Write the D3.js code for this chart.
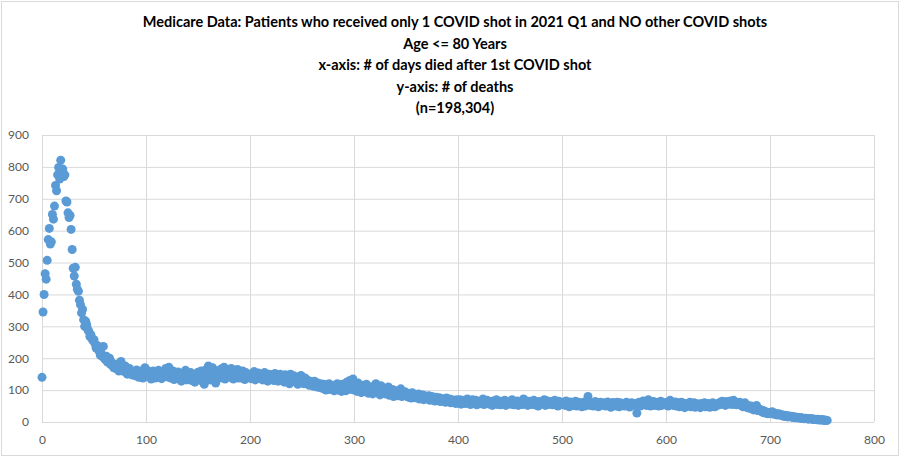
<!DOCTYPE html>
<html>
<head>
<meta charset="utf-8">
<script src="https://cdn.jsdelivr.net/npm/d3@7"></script>
<style>
  body { margin: 0; background: #fff; }
  .title { font-family: Lato, "Liberation Sans", sans-serif; font-weight: bold; font-size: 14.5px; fill: #000; }
  .axis text { font-family: Lato, "Liberation Sans", sans-serif; font-size: 12px; fill: #595959; }
  .axis line { stroke: #d9d9d9; }
  .axis .domain { display: none; }
</style>
</head>
<body>
<svg class="chart" width="900" height="457"></svg>
<script>
"use strict";

const titleLines = [
  "Medicare Data: Patients who received only 1 COVID shot in 2021 Q1 and NO other COVID shots",
  "Age <= 80 Years",
  "x-axis: # of days died after 1st COVID shot",
  "y-axis: # of deaths",
  "(n=198,304)",
];
const xTicks = [0, 100, 200, 300, 400, 500, 600, 700, 800];
const yTicks = [0, 100, 200, 300, 400, 500, 600, 700, 800, 900];

// deaths per day after 1st shot, day 0 .. 755
const deaths = [
  140, 345, 400, 465, 448, 507, 572, 607, 558, 565,
  651, 636, 677, 742, 725, 775, 798, 762, 821, 785,
  793, 770, 775, 693, 690, 656, 641, 648, 604, 541,
  482, 458, 485, 432, 416, 410, 382, 368, 342, 353,
  321, 300, 316, 305, 290, 284, 268, 274, 262, 255,
  258, 245, 232, 240, 228, 222, 210, 216, 205, 237,
  200, 195, 206, 188, 192, 200, 180, 186, 184, 170,
  178, 174, 166, 182, 160, 172, 190, 163, 170, 158,
  176, 162, 150, 165, 168, 155, 160, 147, 158, 152,
  145, 163, 150, 140, 156, 148, 160, 138, 152, 170,
  165, 150, 142, 158, 147, 135, 152, 160, 144, 138,
  155, 148, 162, 140, 150, 136, 158, 145, 152, 168,
  147, 141, 172, 155, 138, 150, 160, 133, 146, 152,
  140, 157, 135, 148, 128, 145, 150, 138, 162, 132,
  147, 136, 142, 155, 130, 144, 150, 125, 148, 139,
  156, 134, 145, 160, 128, 150, 118, 142, 165, 137,
  176, 148, 132, 158, 170, 140, 152, 122, 160, 145,
  150, 138, 166, 147, 155, 172, 135, 158, 144, 162,
  150, 140, 168, 147, 135, 158, 150, 143, 165, 138,
  152, 145, 138, 160, 148, 133, 155, 142, 150, 140,
  147, 136, 152, 143, 158, 132, 148, 140, 154, 137,
  145, 150, 132, 142, 155, 138, 146, 128, 150, 140,
  135, 148, 142, 130, 152, 138, 145, 128, 140, 150,
  132, 144, 138, 125, 148, 136, 130, 142, 120, 150,
  138, 128, 145, 132, 125, 140, 118, 135, 130, 146,
  125, 132, 120, 138, 128, 122, 130, 115, 127, 120,
  124, 112, 128, 118, 110, 122, 115, 108, 120, 112,
  105, 118, 110, 100, 115, 108, 120, 102, 112, 106,
  110, 98, 115, 104, 120, 100, 108, 112, 96, 118,
  105, 112, 98, 125, 108, 102, 130, 110, 115, 135,
  100, 118, 108, 96, 122, 104, 112, 92, 115, 100,
  108, 95, 118, 102, 90, 110, 98, 104, 88, 112,
  96, 120, 100, 92, 108, 85, 114, 98, 90, 105,
  88, 100, 95, 110, 84, 96, 90, 102, 80, 95,
  88, 98, 82, 92, 86, 104, 80, 90, 85, 95,
  82, 90, 78, 88, 84, 75, 92, 80, 86, 76,
  84, 78, 88, 72, 80, 76, 85, 70, 82, 75,
  78, 72, 82, 68, 76, 80, 70, 74, 66, 78,
  72, 68, 76, 64, 74, 70, 66, 72, 62, 75,
  68, 64, 72, 60, 70, 66, 62, 68, 58, 70,
  65, 60, 70, 56, 66, 62, 68, 58, 64, 72,
  60, 66, 55, 64, 70, 58, 62, 68, 54, 65,
  62, 57, 66, 60, 72, 55, 63, 58, 68, 61,
  56, 64, 60, 52, 66, 58, 62, 70, 55, 63,
  60, 54, 65, 58, 62, 68, 52, 60, 64, 57,
  62, 56, 70, 60, 54, 64, 58, 66, 52, 61,
  58, 64, 55, 72, 60, 56, 66, 52, 62, 58,
  65, 55, 60, 68, 54, 62, 58, 50, 64, 60,
  56, 63, 58, 70, 52, 60, 66, 55, 62, 58,
  64, 54, 60, 68, 56, 62, 50, 65, 58, 61,
  55, 62, 58, 52, 66, 56, 60, 48, 63, 57,
  60, 52, 58, 65, 50, 56, 62, 54, 59, 48,
  56, 62, 50, 58, 64, 80, 55, 52, 60, 57,
  50, 58, 64, 54, 60, 48, 56, 62, 52, 58,
  55, 60, 50, 57, 63, 52, 58, 46, 56, 61,
  54, 58, 50, 62, 56, 48, 60, 54, 52, 58,
  50, 56, 62, 52, 58, 47, 55, 60, 53, 57,
  52, 58, 28, 55, 62, 50, 57, 53, 66, 55,
  60, 52, 58, 70, 55, 50, 62, 56, 64, 52,
  58, 54, 62, 50, 56, 65, 52, 58, 55, 60,
  54, 62, 50, 58, 68, 55, 60, 52, 57, 63,
  50, 56, 60, 48, 55, 62, 52, 57, 45, 54,
  58, 50, 55, 62, 48, 56, 52, 60, 46, 54,
  57, 50, 55, 45, 58, 52, 56, 60, 48, 54,
  52, 58, 46, 55, 50, 60, 53, 48, 56, 52,
  58, 54, 62, 56, 65, 58, 60, 52, 64, 58,
  62, 56, 66, 60, 55, 68, 58, 62, 54, 60,
  56, 62, 52, 58, 48, 55, 60, 50, 45, 52,
  48, 42, 50, 44, 38, 46, 40, 52, 36, 42,
  40, 34, 38, 30, 35, 28, 32, 30, 26, 29,
  30, 27, 32, 25, 28, 24, 27, 22, 26, 23,
  24, 20, 22, 18, 21, 17, 20, 16, 19, 17,
  18, 15, 17, 14, 16, 13, 15, 14, 12, 14,
  13, 11, 12, 10, 12, 11, 10, 9, 11, 10,
  9, 10, 8, 9, 8, 7, 9, 7, 6, 8,
  6, 7, 5, 6, 5, 5,
];

const svg = d3.select(".chart");
const width = +svg.attr("width");
const height = +svg.attr("height");
const plot = { left: 42, right: 874, top: 135, bottom: 422 };

svg.append("rect")
  .attr("x", 1.5)
  .attr("y", 1.5)
  .attr("width", width - 3)
  .attr("height", height - 3)
  .attr("fill", "#fff")
  .attr("stroke", "#d9d9d9");

svg.append("g")
  .selectAll("text")
  .data(titleLines)
  .enter()
  .append("text")
  .attr("class", "title")
  .attr("x", 455)
  .attr("y", (d, i) => 27 + i * 21.5)
  .attr("text-anchor", "middle")
  .text((d) => d);

const x = d3.scaleLinear().domain([0, 800]).range([plot.left, plot.right]);
const y = d3.scaleLinear().domain([0, 900]).range([plot.bottom, plot.top]);

svg.append("g")
  .attr("class", "axis")
  .attr("transform", `translate(0, ${plot.bottom})`)
  .call(
    d3.axisBottom(x)
      .tickValues(xTicks)
      .tickSize(-(plot.bottom - plot.top))
      .tickPadding(13)
  );

svg.append("g")
  .attr("class", "axis")
  .attr("transform", `translate(${plot.left}, 0)`)
  .call(
    d3.axisLeft(y)
      .tickValues(yTicks)
      .tickSize(-(plot.right - plot.left))
      .tickPadding(13)
  );

svg.append("g")
  .selectAll("circle")
  .data(deaths)
  .enter()
  .append("circle")
  .attr("cx", (d, i) => x(i))
  .attr("cy", (d) => y(d))
  .attr("r", 4.5)
  .attr("fill", "#5b9bd5");
</script>
</body>
</html>
